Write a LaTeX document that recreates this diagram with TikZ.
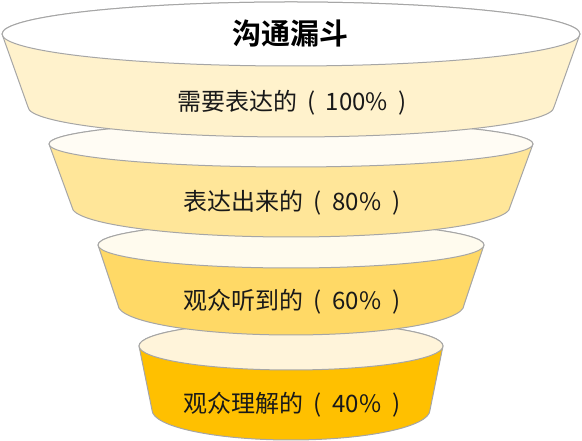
\documentclass[tikz,border=0pt]{standalone}
\usepackage{fontspec}
\setmainfont{Noto Sans CJK SC}
\newfontfamily\cjkb[BoldFont={* Bold}]{Noto Sans CJK SC}
\definecolor{rimc}{RGB}{166,166,166}
\definecolor{bodyA}{RGB}{255,242,204}
\definecolor{bodyB}{RGB}{255,230,153}
\definecolor{bodyC}{RGB}{255,217,102}
\definecolor{bodyD}{RGB}{255,192,0}
\definecolor{topA}{RGB}{255,255,255}
\definecolor{topB}{RGB}{255,252,244}
\definecolor{topC}{RGB}{255,251,238}
\definecolor{topD}{RGB}{255,244,218}
\tikzset{
  rim/.style={draw=rimc, line width=1pt, line join=round},
  lbl/.style={font=\fontsize{24}{26}\selectfont, text=black!90, inner sep=0pt},
  ttl/.style={font=\fontsize{29}{31}\selectfont\bfseries, text=black, inner sep=0pt}
}
\newcommand{\pct}[2]{#1\kern.42em(\kern.45em#2\%\kern.45em)}
% #1 fill body, #2 fill top, #3 top cy, #4 top rx, #5 top ry, #6 bottom cy, #7 bottom rx, #8 bottom ry
\newcommand{\funnelseg}[8]{%
  \draw[rim, fill=#1] (291-#4,441-#3) -- (291-#7,441-#6)
    arc[start angle=180, end angle=360, x radius=#7, y radius=#8]
    -- (291+#4,441-#3)
    arc[start angle=0, end angle=180, x radius=#4, y radius=#5] -- cycle;
  \draw[rim, fill=#2] (291,441-#3) ellipse[x radius=#4, y radius=#5];
}
\begin{document}
\begin{tikzpicture}[x=1pt,y=1pt]
\useasboundingbox (0,0) rectangle (582,441);
\funnelseg{bodyD}{topD}{346}{152}{24}{410}{139}{30}
\funnelseg{bodyC}{topC}{245}{193}{23}{305}{173}{30}
\funnelseg{bodyB}{topB}{144}{242}{23}{207}{219}{30}
\funnelseg{bodyA}{topA}{34}{289}{32}{107}{263}{30}
\node[ttl] (title) at (290,441-34) {\cjkb\bfseries 沟通漏斗};
\node[lbl] (l1) at (292,441-103) {\pct{需要表达的}{100}};
\node[lbl] (l2) at (292,441-203) {\pct{表达出来的}{80}};
\node[lbl] (l3) at (292,441-302) {\pct{观众听到的}{60}};
\node[lbl] (l4) at (292,441-405) {\pct{观众理解的}{40}};
\end{tikzpicture}
\end{document}
